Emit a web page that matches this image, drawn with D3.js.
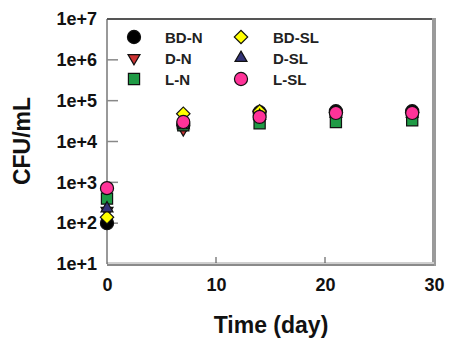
<!DOCTYPE html>
<html><head><meta charset="utf-8">
<script src="https://cdn.jsdelivr.net/npm/d3@7"></script>
<style>body{margin:0;background:#fff}svg{display:block}text{font-family:Arial,"Liberation Sans",sans-serif}</style>
</head><body><svg id="c" width="450" height="342"></svg>
<script>
const days = [0, 7, 14, 21, 28];
const seriesNames = ["BD-N", "D-N", "L-N", "BD-SL", "D-SL", "L-SL"];
const BD_N  = [100, 25000, 52000, 55000, 55000];
const D_N   = [200, 20000, 35000, 42000, 42000];
const L_N   = [400, 25000, 28000, 30000, 33000];
const BD_SL = [140, 48000, 55000, 52000, 52000];
const D_SL  = [230, 25000, 42000, 48000, 48000];
const L_SL  = [720, 30000, 40000, 50000, 50000];
const seriesValues = [BD_N, D_N, L_N, BD_SL, D_SL, L_SL];
const colors = ["#000000", "#cc3333", "#1f9a45", "#ffff00", "#333377", "#ff3399"];
const symbols = [d3.symbolCircle, d3.symbolTriangle, d3.symbolSquare, d3.symbolSquare, d3.symbolTriangle, d3.symbolCircle];
const sizes = [135, 62, 125, 90, 62, 135];
const rotations = [0, 180, 0, 45, 0, 0];
const yTickVals = [1e1, 1e2, 1e3, 1e4, 1e5, 1e6, 1e7];
const yTickLabels = ["1e+1", "1e+2", "1e+3", "1e+4", "1e+5", "1e+6", "1e+7"];
const xTickVals = [0, 10, 20, 30];

const svg = d3.select("#c");
const L = 107, R = 434, T = 19, B = 264;
const x = d3.scaleLinear().domain([0, 30]).range([L, R]);
const y = d3.scaleLog().domain([1e1, 1e7]).range([B, T]);

// frame
svg.append("line").attr("x1", L).attr("x2", R).attr("y1", T).attr("y2", T).attr("stroke", "#555").attr("stroke-width", 2);
svg.append("line").attr("x1", R).attr("x2", R).attr("y1", T - 1).attr("y2", B + 2).attr("stroke", "#9a9a9a").attr("stroke-width", 4);
svg.append("line").attr("x1", L).attr("x2", R).attr("y1", B - 1).attr("y2", B - 1).attr("stroke", "#cfcfcf").attr("stroke-width", 2);
svg.append("line").attr("x1", L).attr("x2", R).attr("y1", B + 1).attr("y2", B + 1).attr("stroke", "#8a8a8a").attr("stroke-width", 2);
svg.append("line").attr("x1", L).attr("x2", L).attr("y1", T).attr("y2", B).attr("stroke", "#555").attr("stroke-width", 1.2);

// y axis
const yAxis = d3.axisLeft(y).tickValues(yTickVals).tickFormat((d, i) => yTickLabels[i]).tickSize(0).tickPadding(10);
const gy = svg.append("g").attr("transform", `translate(${L},0)`).call(yAxis);
gy.select(".domain").remove();
gy.selectAll("text").attr("font-size", 18).attr("font-weight", "bold").attr("fill", "#111");
svg.append("g").selectAll("line").data(yTickVals.slice(1, 6)).join("line")
  .attr("x1", L).attr("x2", L + 11).attr("y1", d => y(d)).attr("y2", d => y(d))
  .attr("stroke", "#888").attr("stroke-width", 1.5);

// x axis
const xAxis = d3.axisBottom(x).tickValues(xTickVals).tickSize(0).tickPadding(14);
const gx = svg.append("g").attr("transform", `translate(0,${B})`).call(xAxis);
gx.select(".domain").remove();
gx.selectAll("text").attr("font-size", 18).attr("font-weight", "bold").attr("fill", "#111");
svg.append("g").selectAll("line").data([10, 20]).join("line")
  .attr("x1", d => x(d)).attr("x2", d => x(d)).attr("y1", B - 1).attr("y2", B - 7)
  .attr("stroke", "#444").attr("stroke-width", 1);

// titles
svg.append("text").attr("transform", `translate(30,141) rotate(-90)`).attr("text-anchor", "middle")
  .attr("font-size", 23).attr("font-weight", "bold").attr("fill", "#111").text("CFU/mL");
svg.append("text").attr("x", 271).attr("y", 333).attr("text-anchor", "middle")
  .attr("font-size", 23).attr("font-weight", "bold").attr("fill", "#111").text("Time (day)");

// markers
const sym = (i) => d3.symbol().type(symbols[i]).size(sizes[i])();
seriesValues.forEach((vals, i) => {
  svg.append("g").selectAll("path").data(days.map((d, j) => [d, vals[j]])).join("path")
    .attr("d", sym(i))
    .attr("transform", d => `translate(${x(d[0])},${y(d[1])}) rotate(${rotations[i]})`)
    .attr("fill", colors[i]).attr("stroke", "#111").attr("stroke-width", 1.2);
});

// legend
const legX = [134, 241], legTX = [165, 273], legY = [37, 58, 79];
const leg = svg.append("g");
seriesNames.forEach((name, i) => {
  const col = Math.floor(i / 3), row = i % 3;
  leg.append("path").attr("d", sym(i))
    .attr("transform", `translate(${legX[col]},${legY[row]}) rotate(${rotations[i]})`)
    .attr("fill", colors[i]).attr("stroke", "#111").attr("stroke-width", 1.2);
  leg.append("text").attr("x", legTX[col]).attr("y", legY[row] + 5.5).attr("font-size", 15)
    .attr("font-weight", "bold").attr("fill", "#222").text(name);
});
</script></body></html>
